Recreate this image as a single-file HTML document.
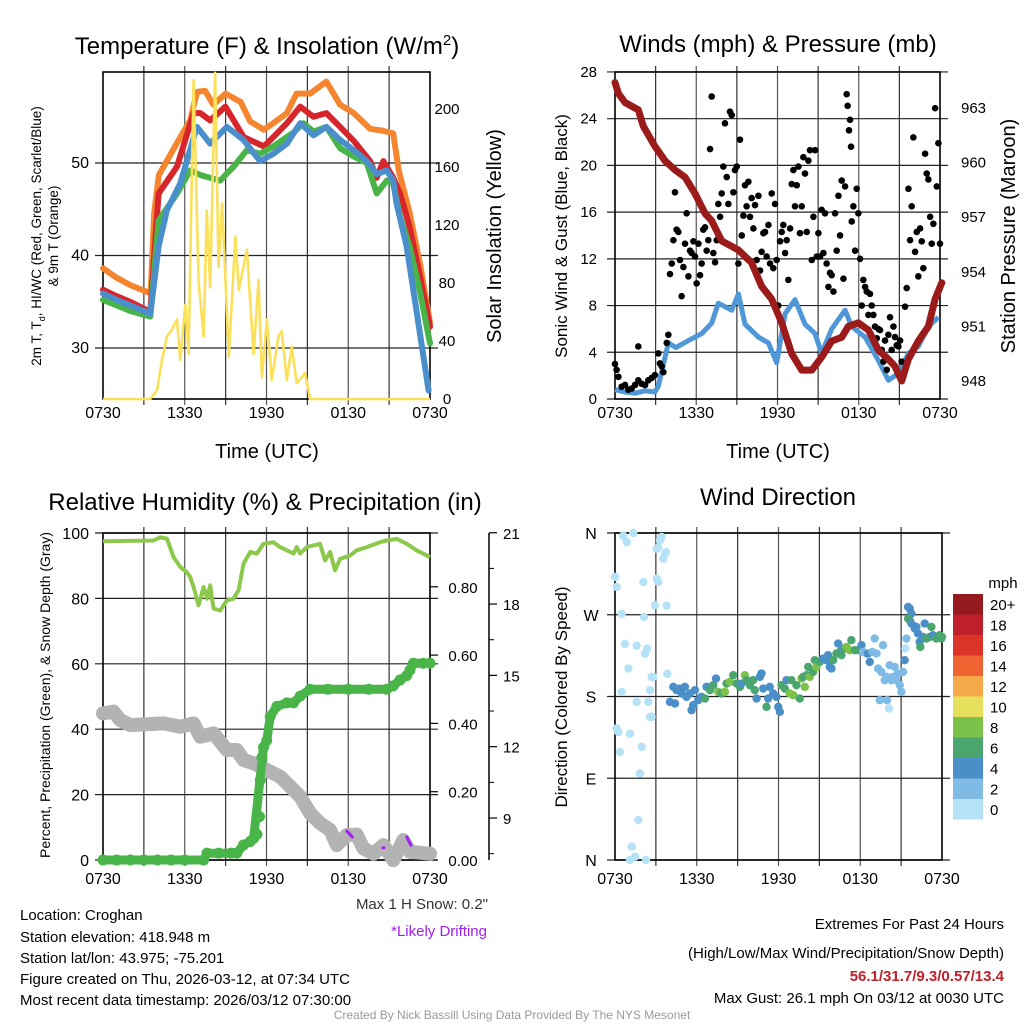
<!DOCTYPE html>
<html><head><meta charset="utf-8">
<style>
html,body{margin:0;padding:0;background:#fff;}
svg{display:block;font-family:"Liberation Sans",sans-serif;}
</style></head>
<body>
<svg id="chart" width="1024" height="1024" viewBox="0 0 1024 1024">
<rect x="0" y="0" width="1024" height="1024" fill="#fff"/>
<text x="267" y="54" font-size="24" text-anchor="middle">Temperature (F) &amp; Insolation (W/m<tspan dy="-9" font-size="15">2</tspan><tspan dy="9">)</tspan></text>
<text x="778" y="52" font-size="24" text-anchor="middle">Winds (mph) &amp; Pressure (mb)</text>
<text x="265" y="510" font-size="24" text-anchor="middle">Relative Humidity (%) &amp; Precipitation (in)</text>
<text x="778" y="505" font-size="24" text-anchor="middle">Wind Direction</text>
<text x="267" y="458" font-size="20" text-anchor="middle">Time (UTC)</text>
<text x="778" y="458" font-size="20" text-anchor="middle">Time (UTC)</text>
<text transform="translate(41,236) rotate(-90)" font-size="13.5" text-anchor="middle">2m T, T<tspan dy="4" font-size="9">d</tspan><tspan dy="-4">, HI/WC (Red, Green, Scarlet/Blue)</tspan></text>
<text transform="translate(58,236) rotate(-90)" font-size="13.5" text-anchor="middle">&amp; 9m T (Orange)</text>
<text transform="translate(501,236) rotate(-90)" font-size="20" text-anchor="middle">Solar Insolation (Yellow)</text>
<text transform="translate(567,236) rotate(-90)" font-size="17" text-anchor="middle">Sonic Wind &amp; Gust (Blue, Black)</text>
<text transform="translate(1015,236) rotate(-90)" font-size="20" text-anchor="middle">Station Pressure (Maroon)</text>
<text transform="translate(50,695) rotate(-90)" font-size="14" text-anchor="middle">Percent, Precipitation (Green), &amp; Snow Depth (Gray)</text>
<text transform="translate(567,697) rotate(-90)" font-size="17" text-anchor="middle">Direction (Colored By Speed)</text>
<g font-size="15">
<text x="20" y="920">Location: Croghan</text>
<text x="20" y="942">Station elevation: 418.948 m</text>
<text x="20" y="963">Station lat/lon: 43.975; -75.201</text>
<text x="20" y="984">Figure created on Thu, 2026-03-12, at 07:34 UTC</text>
<text x="20" y="1005">Most recent data timestamp: 2026/03/12 07:30:00</text>
</g>
<text x="488" y="909" font-size="15" text-anchor="end" fill="#333">Max 1 H Snow: 0.2"</text>
<text x="487" y="936" font-size="15" text-anchor="end" fill="#a020f0">*Likely Drifting</text>
<text x="1004" y="929" font-size="15" text-anchor="end">Extremes For Past 24 Hours</text>
<text x="1004" y="958" font-size="15" text-anchor="end">(High/Low/Max Wind/Precipitation/Snow Depth)</text>
<text x="1004" y="981" font-size="15" font-weight="bold" text-anchor="end" fill="#c0202a">56.1/31.7/9.3/0.57/13.4</text>
<text x="1004" y="1003" font-size="15" text-anchor="end">Max Gust: 26.1 mph On 03/12 at 0030 UTC</text>
<text x="512" y="1019" font-size="12" text-anchor="middle" fill="#999">Created By Nick Bassill Using Data Provided By The NYS Mesonet</text>
<text x="1003" y="588" font-size="15" text-anchor="middle">mph</text>
<g id="layer"></g>
</svg>
<script>
const xTickLabels = ["0730","1330","1930","0130","0730"];
const tOrange = [0,1,2,3,3.5,3.75,4.1,5.4,6.4,6.9,7.5,8.1,9,10.1,10.8,11.8,12.5,13.5,14.2,15.2,16.4,17.4,18.4,19.6,20.5,21.3,21.7,22.5,23.3,24];
const tempOrange = [38.6,37.6,36.8,36.2,35.9,44.5,48.7,52.1,54.6,57.7,57.8,56.3,57.5,56.6,54.5,53.6,54.3,55.4,57.5,57.5,58.8,56.3,55.4,53.7,53.5,53.2,49.2,44.6,38.8,32.7];
const tRed = [0,1,2,3.47,4.08,5.43,6.65,7.14,7.87,8.98,10.33,11.8,12.5,13.5,14.47,15.44,16.4,17.4,18.4,19.6,20.09,20.58,21.3,21.8,22.5,23.27,24];
const tempRed = [36.3,35.6,35.0,33.9,46.7,49.6,55.4,55.4,54.6,56.1,52.8,51.8,52.8,54.3,56.1,55.0,55.4,53.9,52.4,50.2,48.4,50.2,48.4,46.7,43.1,37.7,32.3];
const tGreen = [0,1,2,3.47,4.08,5.43,6.4,7.14,8.6,9.58,10.56,11.53,12.5,13.98,14.71,15.44,16.4,17.4,18.4,19.36,20.09,20.82,21.3,21.8,22.5,23.27,24];
const tempGreen = [35.2,34.6,34.0,33.4,43.8,46.7,49.2,48.7,48.1,49.6,51.4,51.0,51.8,53.3,54.3,53.4,53.9,51.6,50.7,50.0,46.7,48.1,47.8,44.2,41.0,36.0,30.5];
const tBlue = [0,1,2,3.47,4.08,4.69,5.67,6.89,7.87,9.09,10.31,11.53,12.5,13.5,14.47,15.44,16.4,17.4,18.4,19.36,20.09,20.82,21.3,21.55,22.28,23.0,23.9];
const tempBlue = [35.9,35.2,34.6,33.7,41.0,44.9,47.8,53.9,52.1,53.9,52.5,50.2,51.0,52.1,54.3,53.0,53.9,52.5,51.4,50.2,48.8,49.2,48.1,45.6,41.0,34.1,25.4];
const tSolar = [0,3.47,3.96,4.33,4.69,5.06,5.43,5.67,6.04,6.28,6.65,7.01,7.38,7.62,7.87,8.23,8.48,8.74,9.23,9.72,9.97,10.56,11.05,11.41,11.66,12.03,12.39,12.87,13.12,13.49,13.86,14.22,14.59,14.83,15.2,15.5,24];
const solar = [0,0,6,27,43,48,55,27,65,31,220,82,43,130,77,225,91,135,29,112,75,103,31,82,15,55,13,43,47,13,36,11,15,18,0,0,0];
const tPres = [0,0.25,0.74,1.48,1.72,2.09,2.95,3.69,4.43,5.17,5.91,6.65,7.14,7.88,9.11,10.09,10.83,11.57,12.31,13.05,13.79,14.53,15.26,16.0,16.74,17.23,17.97,18.71,19.45,20.19,20.68,21.17,21.67,22.4,23.14,23.64,24.13];
const pressure = [964.4,963.8,963.3,963.0,962.9,962.0,960.9,960.1,959.6,959.2,958.3,957.2,956.8,955.7,955.2,954.5,953.2,952.5,951.2,949.5,948.6,948.6,949.3,950.2,950.4,951.0,951.2,950.8,949.7,949.2,948.8,948.0,949.2,950.2,951.0,952.5,953.4];
const tWind = [0,0.74,1.5,2.2,2.95,3.2,3.94,4.5,5.42,6.4,7.14,7.63,8.62,9.11,9.6,10.59,11.33,11.94,12.56,13.29,14.03,14.77,15.26,16.0,16.99,17.48,18.47,19.45,20.19,20.93,21.67,22.4,23.14,23.88];
const wind = [0.8,0.6,0.5,0.7,0.6,1.1,4.8,4.4,5.0,5.6,6.5,8.2,7.6,9.0,6.4,5.3,4.8,3.1,7.3,8.5,6.4,5.6,3.9,6.0,7.6,6.2,5.3,3.3,1.6,2.2,3.9,4.5,6.2,7.0];
const tGust = [0,.12,.25,.49,.74,.98,1.23,1.48,1.72,1.72,1.97,2.22,2.46,2.71,2.95,3.2,3.32,3.45,3.57,3.82,3.94,4.06,4.19,4.31,4.43,4.55,4.68,4.8,4.92,5.05,5.17,5.29,5.42,5.54,5.66,5.79,5.91,6.03,6.16,6.28,6.4,6.52,6.65,6.77,6.89,7.02,7.14,7.26,7.39,7.51,7.63,7.76,7.88,8.0,8.12,8.25,8.37,8.49,8.62,8.74,8.86,8.99,9.11,9.23,9.36,9.48,9.6,9.72,9.85,9.97,10.09,10.22,10.34,10.46,10.59,10.71,10.83,10.96,11.08,11.2,11.33,11.45,11.57,11.69,11.82,11.94,12.06,12.19,12.31,12.43,12.56,12.68,12.8,12.93,13.05,13.17,13.29,13.42,13.54,13.66,13.79,13.91,14.03,14.16,14.28,14.4,14.53,14.65,14.77,14.9,15.02,15.14,15.26,15.39,15.51,15.63,15.76,15.88,16.0,16.13,16.25,16.37,16.5,16.62,16.74,16.87,16.99,17.11,17.18,17.28,17.36,17.43,17.48,17.6,17.73,17.85,17.97,18.1,18.22,18.34,18.47,18.59,18.71,18.83,18.96,19.08,19.2,19.33,19.45,19.57,19.7,19.82,19.94,20.07,20.19,20.31,20.43,20.56,20.68,20.8,20.93,21.05,21.17,21.42,21.54,21.67,21.79,21.91,22.03,22.16,22.28,22.4,22.53,22.65,22.77,22.9,23.02,23.14,23.27,23.39,23.51,23.64,23.76,23.88,24.0];
const gust = [3.0,2.5,1.9,1.05,1.2,0.8,0.9,1.2,1.6,4.5,1.3,1.2,1.6,1.8,2.05,3.9,3.05,2.8,2.3,4.8,5.5,10.7,11.6,13.6,17.7,14.5,14.3,11.9,8.8,11.3,13.3,15.9,10.5,12.7,12.5,13.5,12.2,9.9,13.3,10.6,11.6,14.5,14.7,12.7,13.6,21.4,25.9,12.5,11.7,13.6,16.7,15.6,17.6,19.9,23.6,19.0,16.7,24.6,24.3,17.7,19.6,19.9,11.6,22.2,14.0,15.7,18.3,16.5,18.6,15.6,17.2,14.6,16.6,11.9,17.4,11.0,12.6,14.2,14.3,12.2,14.9,11.6,17.6,11.2,16.7,11.9,8.0,13.5,14.3,14.9,12.5,13.6,10.2,14.6,18.4,19.6,16.5,18.3,19.9,14.2,16.5,20.7,19.3,14.3,20.4,21.3,11.9,15.6,21.3,12.2,14.2,12.2,16.2,12.5,15.9,11.6,9.6,10.8,10.6,9.2,15.9,12.7,17.4,14.0,18.7,10.3,18.2,26.1,25.1,23.0,23.9,21.6,15.2,16.5,12.7,18.0,15.9,12.0,8.0,10.2,9.6,9.2,7.2,9.0,8.0,7.2,6.2,5.2,6.0,5.9,4.2,3.2,5.0,2.5,5.5,7.0,4.2,6.2,5.3,4.6,4.5,5.0,3.2,7.9,9.5,18.0,13.6,16.5,22.4,12.6,14.3,10.5,14.6,13.5,11.2,21.0,19.3,18.8,15.6,13.3,15.0,24.9,18.2,21.9,13.3,20.7,18.9];
const tRH = [0,3.71,4.2,4.69,5.18,5.67,6.16,6.4,6.65,7.01,7.38,7.63,7.87,8.11,8.6,9.09,9.58,9.95,10.31,10.8,11.29,11.78,12.51,13.0,13.49,13.98,14.22,14.47,14.96,15.93,16.3,16.67,17.03,17.4,18.13,18.62,19.36,20.33,20.82,21.56,22.29,23.02,24];
const rh = [97.5,97.7,98.7,98.3,92.6,89.6,88.0,86.5,83.5,77.9,83.5,79.9,84.0,76.9,76.3,79.4,79.9,82.5,90.6,94.2,93.7,96.7,97.2,95.7,94.7,93.7,95.7,93.7,95.7,96.7,91.6,94.2,88.6,92.1,93.1,94.7,95.7,97.2,97.7,98.2,96.7,94.7,92.6];
const tPrecip = [0,1,2,3,4,5,6,7.38,7.63,8.5,9.4,9.82,10.31,10.8,11.05,11.3,11.49,11.54,11.66,11.78,12.02,12.27,12.76,13.49,13.98,14.47,15.2,16.5,18,19.5,20.82,21.3,21.8,22.29,22.53,22.78,23.5,24];
const precip = [0,0,0,0,0,0,0,0,0.02,0.02,0.02,0.02,0.044,0.054,0.063,0.075,0.127,0.234,0.30,0.33,0.35,0.42,0.45,0.46,0.46,0.48,0.50,0.50,0.50,0.50,0.50,0.51,0.527,0.54,0.556,0.576,0.576,0.576];
const tSnow = [0,0.78,1.27,2.0,4.45,5.67,6.65,7.14,8.11,9.09,9.82,10.31,11.05,12.02,13.0,13.74,14.47,15.2,15.93,16.67,17.16,17.89,18.62,19.11,19.85,20.58,21.31,22.04,22.53,24];
const snow = [13.4,13.47,13.12,12.91,12.98,12.84,12.98,12.42,12.56,11.86,11.86,11.44,11.3,11.02,10.74,10.32,9.9,9.2,8.78,8.5,7.86,8.28,8.3,7.72,7.5,7.86,7.23,8.07,7.58,7.5];
const tDrift = [17.9,18.3,20.55,20.62,22.3,22.6];
const drift = [8.45,8.2,7.75,7.75,8.2,7.85];
const tDir = [0,.12,.49,.61,.86,1.34,1.59,.73,.98,.49,.12,.24,.37,1.1,1.59,1.96,1.83,1.71,1.22,1.47,1.1,2.27,2.08,2.13,2.2,2.37,2.44,2.57,2.69,2.81,2.57,2.69,2.93,3.06,3.18,3.3,3.42,3.54,3.67,3.74,3.06,3.18,3.79,3.84,
4.03,4.28,4.4,4.52,4.77,4.89,5.13,5.25,5.5,5.62,5.74,5.87,6.11,6.35,6.6,6.72,6.97,7.21,7.41,7.58,7.82,8.07,8.19,8.43,8.68,8.92,9.17,9.29,9.53,9.65,9.9,10.14,10.26,10.39,10.63,10.75,10.88,11.12,11.24,11.36,11.61,11.85,11.98,12.1,12.22,12.46,12.59,12.83,12.95,13.08,13.32,13.56,13.69,13.81,13.93,14.05,14.18,14.3,14.54,14.66,14.79,15.03,15.28,15.52,15.64,15.76,15.89,16.01,16.25,16.38,16.5,16.62,16.74,16.86,16.99,17.23,17.35,17.6,17.84,18.09,18.21,18.45,18.57,18.7,18.89,19.06,19.19,19.31,19.43,19.55,19.67,19.8,19.92,19.97,20.11,20.16,20.29,20.41,20.53,20.65,20.77,20.9,21.02,21.14,21.26,21.31,21.39,21.51,21.63,21.75,21.63,21.51,21.75,22.0,22.12,22.24,22.36,22.41,22.61,22.73,22.85,23.1,23.22,23.34,23.58,23.71,23.83,23.95,24.0];
const direction = [311.6,300.6,271,357,350,360,236,238,210.8,185,144.8,141,119,139,174,124.6,95.3,44,14.7,3.7,0,0,306,267.6,227,232.8,174,187,201.6,201.6,157.6,157.6,280.4,342.8,344,352,355.6,331.8,337.3,339,309.8,306,280,205,
174.1,190.6,172.3,187,188.8,183.3,190.6,179.6,183.3,165,170.5,187,176,179.6,177.8,190.6,187,192.5,199.8,185.1,183.3,185.1,194.3,196.1,203.5,194.3,190.6,194.3,203.5,198,192.5,198,187,177.8,201.6,205.3,188.8,168.6,177.8,190.6,183.3,179.6,168.6,163.1,192.5,188.8,198,183.3,198,181.5,192.5,177.8,199.8,201.6,190.6,203.5,212.6,201.6,207.1,220,212.6,218.1,221.8,220,225.5,212.6,210.8,220,227.3,238.3,229.1,225.5,232.8,232.8,234.6,231,242,231,231,236.5,229.1,227.3,227.3,218.1,229.1,243.8,227.3,210.8,176,207.1,236.5,198,201.6,176,166.8,214.5,198,201.6,212.6,198,205.3,192.5,185.1,207.1,220,232.8,243.8,278.6,276.8,271.3,264,265.8,260.3,254.8,256.6,249.3,240.1,234.6,245.6,260.3,243.8,245.6,256.6,247.5,243.8,245.6,247.5,243.8,245.6];
const dirSpeed = [1,1,1,1,1,1,1,1,1,1,1,1,1,1,1,1,1,1,1,1,1,1,1,1,1,1,1,1,1,1,1,1,1,1,1,1,1,1,1,1,1,1,1,1,
5,5,5,5,5,5,5,5,5,5,5,5,5,5,7,5,7,7,5,9,7,9,7,9,7,7,7,5,9,7,7,7,7,5,5,5,5,7,5,5,5,5,5,5,7,7,5,9,7,9,7,7,9,7,9,7,7,9,7,7,9,7,5,5,5,5,5,7,7,5,7,7,5,7,9,9,7,7,7,5,3,3,5,5,3,3,3,3,3,3,3,3,3,3,1,3,3,3,3,3,3,3,3,3,5,1,3,5,5,5,7,7,5,5,5,5,5,7,5,5,7,7,7,5,7,7,7,7,7,7];
const cbLabels = ["20+","18","16","14","12","10","8","6","4","2","0"];
const cbColors = ["#941a1d","#bf1f2a","#dc3328","#ee6330","#f5a84a","#e7e05c","#7cc24a","#4aa56f","#4a8fc7","#7fbbe5","#b6e2f7"];

const NS = "http://www.w3.org/2000/svg";
const layer = document.getElementById('layer');
function mk(tag, attrs, parent){ const e=document.createElementNS(NS,tag); for(const k in attrs) e.setAttribute(k,attrs[k]); (parent||layer).appendChild(e); return e; }
function xScale(x0,x1){ return t => x0 + t/24*(x1-x0); }
function pathD(ts, vs, xs, ys){ return ts.map((t,i)=>(i?'L':'M')+xs(t).toFixed(1)+','+ys(vs[i]).toFixed(1)).join(''); }
function speedColor(s){ let idx = Math.min(10, Math.floor(s/2)); return cbColors[10-idx]; }

function frame(x0,y0,x1,y1,hLines,name,labDy){
  const g = mk('g',{});
  
  
  for(let i=1;i<8;i++){ const x=x0+(x1-x0)*i/8;
    const l = mk('line',{x1:x,y1:y0-6,x2:x,y2:y1+6,stroke:(i%2?'#333':'#555'),'stroke-width':1.2},g);
    
    
  }
  hLines.forEach(y=>{ const l=mk('line',{x1:x0-8,y1:y,x2:x1+8,y2:y,stroke:'#222','stroke-width':1.2},g);
    
    
  });
  const r = mk('rect',{x:x0,y:y0,width:x1-x0,height:y1-y0,fill:'none',stroke:'#000','stroke-width':1.6},g);
  
  
  const xs = xScale(x0,x1);
  xTickLabels.forEach((lab,i)=>{ const t = mk('text',{x:xs(i*6),y:y1+labDy,'font-size':16,'text-anchor':'middle'},g);
    t.textContent = lab;
    
    
  });
}
function label(x,y,txt,anchor,size,name){ const t=mk('text',{x:x,y:y,'font-size':size||15,'text-anchor':anchor||'end'}); t.textContent=txt;
  
  
  return t; }

{
  const x0=103,x1=430,y0=72,y1=399;
  const xs=xScale(x0,x1), yT=v=>163-(v-50)*9.25, yW=v=>399-v*1.45;
  frame(x0,y0,x1,y1,[yT(50),yT(40),yT(30)],'temperature',19);
  [50,40,30].forEach(v=>label(89,yT(v)+5,String(v),'end',16,'temperature-y-tick-label'));
  [0,40,80,120,160,200].forEach(v=>{ label(447,yW(v)+5,String(v),'middle',15,'insolation-y-tick-label'); });
  const series=[[tOrange,tempOrange,'#f5862f','orange-9m-temp-line'],[tRed,tempRed,'#d7262b','red-2m-temp-line'],[tGreen,tempGreen,'#49b548','green-dewpoint-line'],[tBlue,tempBlue,'#4a8fcc','blue-windchill-line']];
  series.forEach(s=>{ const p=mk('path',{d:pathD(s[0],s[1],xs,yT),fill:'none',stroke:s[2],'stroke-width':6,'stroke-linejoin':'round','stroke-linecap':'round'});
    
    
  });
  const p=mk('path',{d:pathD(tSolar,solar,xs,yW),fill:'none',stroke:'#fbe05a','stroke-width':2.6,'stroke-linejoin':'round'});
  
  
}
{
  const x0=615,x1=940,y0=72,y1=399;
  const xs=xScale(x0,x1), yS=v=>399-v*11.68, yP=v=>381-(v-948)*18.2;
  frame(x0,y0,x1,y1,[0,4,8,12,16,20,24,28].map(yS),'winds',19);
  [0,4,8,12,16,20,24,28].forEach(v=>label(597,yS(v)+5,String(v),'end',15,'wind-y-tick-label'));
  [948,951,954,957,960,963].forEach(v=>label(961,yP(v)+5,String(v),'start',15,'pressure-y-tick-label'));
  const w=mk('path',{d:pathD(tWind,wind,xs,yS),fill:'none',stroke:'#4f97d6','stroke-width':5,'stroke-linejoin':'round'});
  
  
  tGust.forEach((t,i)=>{ const c=mk('circle',{cx:xs(t),cy:yS(gust[i]),r:3.3,fill:'#000'});
    
    
  });
  const p=mk('path',{d:pathD(tPres,pressure,xs,yP),fill:'none',stroke:'#9b1a1a','stroke-width':7,'stroke-linejoin':'round','stroke-linecap':'round'});
  
  
}
{
  const x0=103,x1=430,y0=533,y1=860;
  const xs=xScale(x0,x1), yR=v=>860-v*3.27, yPr=v=>860-v*341.5, ySn=v=>818-(v-9)*23.77;
  frame(x0,y0,x1,y1,[0,20,40,60,80,100].map(yR),'humidity',24);
  [0,20,40,60,80,100].forEach(v=>label(89,yR(v)+6,String(v),'end',16,'humidity-y-tick-label'));
  [0,0.2,0.4,0.6,0.8].forEach(v=>{ label(463,yPr(v)+6,v.toFixed(2),'middle',15,'precip-y-tick-label');
    const tk=mk('line',{x1:430,y1:yPr(v),x2:438,y2:yPr(v),stroke:'#000','stroke-width':1.2});
    
    
  });
  const ax=mk('line',{x1:489,y1:533,x2:489,y2:860,stroke:'#000','stroke-width':1.5});
  
  
  [21,18,15,12,9].forEach(v=>{ label(503,ySn(v)+6,String(v),'start',15,'snow-y-tick-label');
    const tk=mk('line',{x1:489,y1:ySn(v),x2:497,y2:ySn(v),stroke:'#000','stroke-width':1.2});
    
    
  });
  [19.5,16.5,13.5,10.5,7.5].forEach(v=>{ const tk=mk('line',{x1:489,y1:ySn(v),x2:494,y2:ySn(v),stroke:'#000','stroke-width':1});
    
    
  });
  const s=mk('path',{d:pathD(tSnow,snow,xs,ySn),fill:'none',stroke:'#b3b3b3','stroke-width':14,'stroke-linejoin':'round','stroke-linecap':'round'});
  
  
  for(let i=0;i<tDrift.length;i+=2){ const d=mk('line',{x1:xs(tDrift[i]),y1:ySn(drift[i]),x2:xs(tDrift[i+1]),y2:ySn(drift[i+1]),stroke:'#a020f0','stroke-width':3,'stroke-linecap':'round'});
    
    
  }
  const r=mk('path',{d:pathD(tRH,rh,xs,yR),fill:'none',stroke:'#8cc84b','stroke-width':4,'stroke-linejoin':'round'});
  
  
  const pl=mk('path',{d:pathD(tPrecip.filter((t,i)=>i<15||i>18),precip.filter((t,i)=>i<15||i>18),xs,yPr),fill:'none',stroke:'#49b548','stroke-width':9,'stroke-linejoin':'round','stroke-linecap':'round'});
  
  
  tPrecip.forEach((t,i)=>{ const c=mk('circle',{cx:xs(t),cy:yPr(precip[i]),r:5.5,fill:'#49b548'});
    
    
  });
}
{
  const x0=615,x1=942,y0=533,y1=860;
  const xs=xScale(x0,x1), yD=v=>860-v*0.9083;
  frame(x0,y0,x1,y1,[360,270,180,90,0].map(yD),'direction',24);
  [['N',360],['W',270],['S',180],['E',90],['N',0]].forEach(d=>label(591,yD(d[1])+6,d[0],'middle',16,'direction-y-tick-label'));
  tDir.forEach((t,i)=>{ const c=mk('circle',{cx:xs(t),cy:yD(direction[i]),r:4.2,fill:speedColor(dirSpeed[i])});
    
    
  });
  cbColors.forEach((col,i)=>{ const b=mk('rect',{x:953,y:594+i*20.5,width:30,height:20.5,fill:col});
    
    
    label(990,594+i*20.5+16,cbLabels[i],'start',15,'colorbar-label');
  });
}
</script>
</body></html>
